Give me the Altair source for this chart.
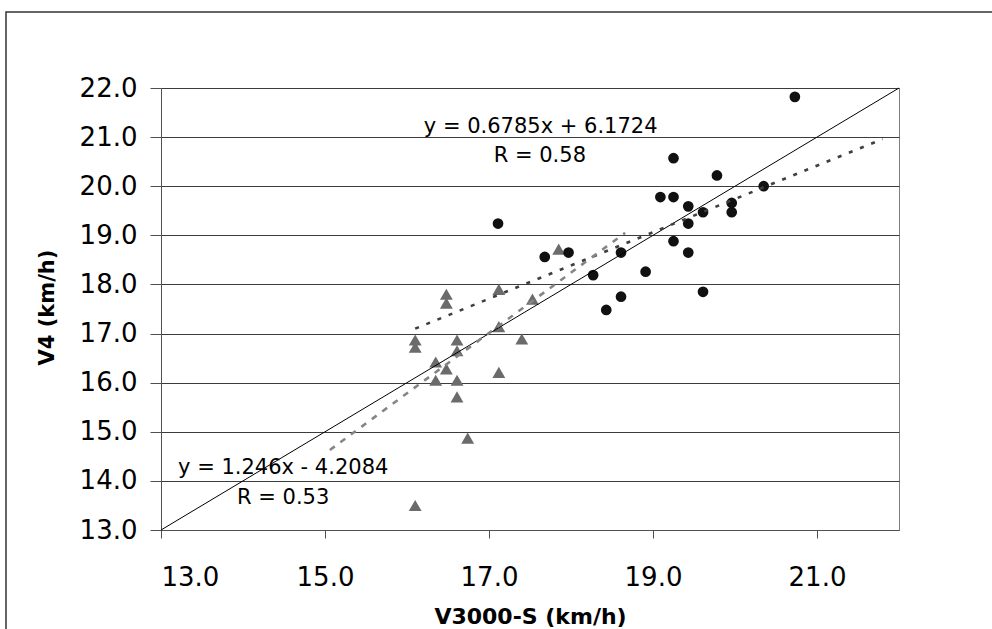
import altair as alt
import pandas as pd

# ---- data ----
# black circles
circ_x = [20.73, 19.25, 19.78, 20.35, 19.09, 19.25, 19.43, 19.96, 19.61, 19.96, 19.43,
          17.11, 19.25, 19.43, 18.61, 17.97, 17.68, 18.27, 18.91, 18.61, 18.43, 19.61]
circ_y = [21.82, 20.57, 20.22, 20.00, 19.78, 19.78, 19.59, 19.66, 19.47, 19.47, 19.24,
          19.24, 18.88, 18.65, 18.65, 18.65, 18.56, 18.19, 18.26, 17.75, 17.48, 17.85]

# grey triangles
tri_x = [16.10, 16.10, 16.48, 16.48, 17.12, 17.53, 17.12, 16.61, 17.40, 16.61,
         16.35, 16.48, 17.12, 16.35, 16.61, 16.61, 16.74, 16.10, 17.85]
tri_y = [16.87, 16.72, 17.80, 17.62, 17.90, 17.70, 17.14, 16.87, 16.89, 16.65,
         16.42, 16.28, 16.21, 16.05, 16.05, 15.71, 14.87, 13.50, 18.72]

# trend lines (end points) and identity line
fit1_x = [16.10, 21.80]
fit1_y = [17.10, 20.96]
fit2_x = [15.06, 18.66]
fit2_y = [14.63, 19.05]
ident_x = [13.0, 22.0]
ident_y = [13.0, 22.0]

ann_text = ["y = 0.6785x + 6.1724", "R = 0.58", "y = 1.246x - 4.2084", "R = 0.53"]
ann_x = [17.63, 17.62, 14.49, 14.49]
ann_y = [21.08, 20.50, 14.14, 13.53]

x_ticks = [13, 15, 17, 19, 21]
y_ticks = [13, 14, 15, 16, 17, 18, 19, 20, 21, 22]

W, H = 738, 442
FONT = "DejaVu Sans"

xs = alt.Scale(domain=[13, 22], nice=False, zero=False)
ys = alt.Scale(domain=[13, 22], nice=False, zero=False)

x_axis = alt.Axis(values=x_ticks, format=".1f", grid=False,
                  labelFont=FONT, labelFontSize=26, labelColor="black",
                  labelBaseline="alphabetic", labelPadding=47.7,
                  tickSize=8, tickColor="#505050", domainColor="#505050",
                  title="V3000-S (km/h)", titleFont=FONT, titleFontSize=22,
                  titleFontWeight="bold", titleColor="black",
                  titleX=W / 2, titleY=93, titleBaseline="alphabetic", titleAlign="center")
y_axis = alt.Axis(values=y_ticks, format=".1f", grid=True,
                  gridColor="#3c3c3c", gridWidth=1,
                  labelFont=FONT, labelFontSize=26, labelColor="black",
                  labelPadding=13, tickSize=11, tickColor="#505050", domainColor="#505050",
                  title="V4 (km/h)", titleFont=FONT, titleFontSize=21,
                  titleFontWeight="bold", titleColor="black", titleAngle=270,
                  titleX=-107.7, titleY=H / 2 - 2, titleBaseline="alphabetic", titleAlign="center")

circ_df = pd.DataFrame({"x": circ_x, "y": circ_y})
tri_df = pd.DataFrame({"x": tri_x, "y": tri_y})
fit1_df = pd.DataFrame({"x": fit1_x, "y": fit1_y})
fit2_df = pd.DataFrame({"x": fit2_x, "y": fit2_y})
id_df = pd.DataFrame({"x": ident_x, "y": ident_y})
ann_df = pd.DataFrame({"t": ann_text, "x": ann_x, "y": ann_y})

frame = alt.Chart(pd.DataFrame({"a": [0]})).mark_rect(
    fillOpacity=0, stroke="#333333", strokeWidth=1.5, clip=False
).encode(x=alt.value(-155), x2=alt.value(900), y=alt.value(-76), y2=alt.value(700))

base_axes = alt.Chart(circ_df).mark_point(opacity=0).encode(
    x=alt.X("x:Q", scale=xs, axis=x_axis),
    y=alt.Y("y:Q", scale=ys, axis=y_axis),
)

tri = alt.Chart(tri_df).mark_point(shape="triangle-up", filled=True, size=165,
                                   color="#6b6b6b", opacity=1).encode(
    x=alt.X("x:Q", scale=xs), y=alt.Y("y:Q", scale=ys))

circ = alt.Chart(circ_df).mark_point(shape="circle", filled=True, size=115,
                                     color="#111111", opacity=1).encode(
    x=alt.X("x:Q", scale=xs), y=alt.Y("y:Q", scale=ys))

ident = alt.Chart(id_df).mark_line(color="black", strokeWidth=1).encode(
    x=alt.X("x:Q", scale=xs), y=alt.Y("y:Q", scale=ys))

fit1 = alt.Chart(fit1_df).mark_line(color="#3f3f3f", strokeWidth=2.6,
                                    strokeDash=[4, 8], strokeCap="butt").encode(
    x=alt.X("x:Q", scale=xs), y=alt.Y("y:Q", scale=ys))

fit2 = alt.Chart(fit2_df).mark_line(color="#858585", strokeWidth=2.6,
                                    strokeDash=[6, 7], strokeCap="butt").encode(
    x=alt.X("x:Q", scale=xs), y=alt.Y("y:Q", scale=ys))

ann = alt.Chart(ann_df).mark_text(font=FONT, fontSize=21, align="center",
                                  baseline="alphabetic", color="black").encode(
    x=alt.X("x:Q", scale=xs), y=alt.Y("y:Q", scale=ys), text="t:N")

chart = alt.layer(frame, base_axes, tri, circ, ident, fit1, fit2, ann).properties(
    width=W, height=H,
    padding={"left": 161, "top": 88, "right": 93, "bottom": 99},
    autosize=alt.AutoSizeParams(type="none"),
    background="white",
).configure_view(stroke="#808080", strokeWidth=1)

chart.save("out.html", embed_options={"renderer": "svg", "actions": False})
